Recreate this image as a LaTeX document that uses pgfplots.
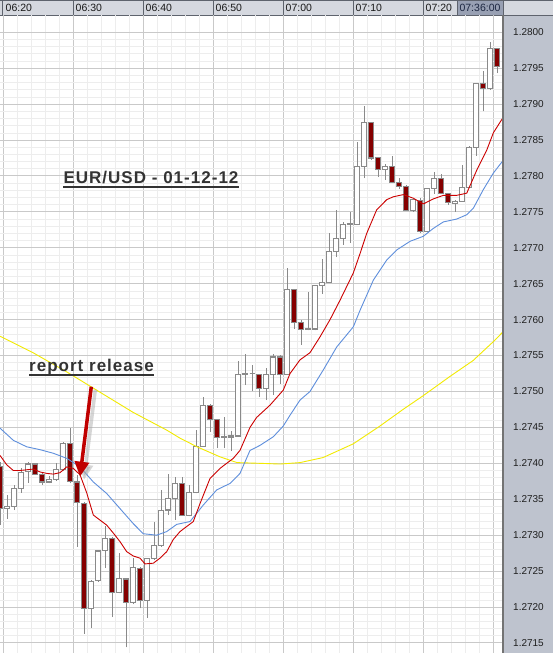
\documentclass[border=0pt]{standalone}
\usepackage{fontspec}
\setmainfont{Liberation Sans}
\usepackage{pgfplots}
\pgfplotsset{compat=1.18}
\usepackage{pgfplotstable}
\usetikzlibrary{arrows.meta}

\definecolor{hdrbg}{HTML}{D5D8DF}
\definecolor{hdrline}{HTML}{5E636D}
\definecolor{nowbg}{HTML}{98A0B3}
\definecolor{nowtxt}{HTML}{1C2640}
\definecolor{panelbg}{HTML}{BEC3CE}
\definecolor{gridmaj}{HTML}{C9C9C9}
\definecolor{gridmin}{HTML}{EDEDED}
\definecolor{candleline}{HTML}{8A8A8A}
\definecolor{candledown}{HTML}{850000}
\definecolor{mared}{HTML}{CC0000}
\definecolor{mablue}{HTML}{5F8FDC}
\definecolor{mayellow}{HTML}{F2EA00}
\definecolor{notetxt}{HTML}{333333}
\definecolor{arrowred}{HTML}{C00000}

% one-minute candles, EUR/USD
\pgfplotstableread{
i o h l c
0 1.27395 1.27402 1.27314 1.27337
1 1.27337 1.27356 1.27323 1.27340
2 1.27340 1.27370 1.27335 1.27365
3 1.27365 1.27393 1.27359 1.27387
4 1.27388 1.27402 1.27373 1.27399
5 1.27399 1.27400 1.27384 1.27385
6 1.27385 1.27388 1.27370 1.27374
7 1.27374 1.27382 1.27372 1.27377
8 1.27377 1.27401 1.27376 1.27392
9 1.27392 1.27430 1.27390 1.27427
10 1.27427 1.27449 1.27372 1.27375
11 1.27374 1.27384 1.27284 1.27345
12 1.27344 1.27346 1.27163 1.27198
13 1.27198 1.27237 1.27171 1.27236
14 1.27237 1.27279 1.27235 1.27278
15 1.27279 1.27313 1.27254 1.27295
16 1.27295 1.27298 1.27186 1.27220
17 1.27220 1.27275 1.27219 1.27240
18 1.27239 1.27240 1.27144 1.27206
19 1.27206 1.27268 1.27204 1.27255
20 1.27254 1.27256 1.27198 1.27209
21 1.27209 1.27268 1.27185 1.27268
22 1.27268 1.27319 1.27266 1.27285
23 1.27285 1.27363 1.27284 1.27334
24 1.27335 1.27385 1.27328 1.27351
25 1.27351 1.27381 1.27321 1.27372
26 1.27372 1.27381 1.27328 1.27328
27 1.27328 1.27370 1.27326 1.27359
28 1.27359 1.27447 1.27358 1.27424
29 1.27424 1.27492 1.27423 1.27481
30 1.27481 1.27483 1.27444 1.27461
31 1.27461 1.27461 1.27421 1.27436
32 1.27436 1.27464 1.27421 1.27437
33 1.27436 1.27445 1.27417 1.27438
34 1.27438 1.27542 1.27437 1.27524
35 1.27524 1.27552 1.27509 1.27525
36 1.27525 1.27537 1.27500 1.27525
37 1.27524 1.27525 1.27493 1.27504
38 1.27504 1.27532 1.27488 1.27524
39 1.27524 1.27552 1.27495 1.27548
40 1.27548 1.27551 1.27511 1.27524
41 1.27524 1.27672 1.27524 1.27642
42 1.27642 1.27642 1.27587 1.27596
43 1.27596 1.27600 1.27565 1.27586
44 1.27586 1.27638 1.27585 1.27588
45 1.27587 1.27648 1.27585 1.27648
46 1.27648 1.27684 1.27636 1.27652
47 1.27652 1.27720 1.27651 1.27695
48 1.27695 1.27753 1.27687 1.27713
49 1.27713 1.27736 1.27704 1.27733
50 1.27733 1.27750 1.27707 1.27734
51 1.27733 1.27847 1.27732 1.27813
52 1.27813 1.27897 1.27797 1.27874
53 1.27874 1.27874 1.27822 1.27825
54 1.27826 1.27827 1.27799 1.27809
55 1.27809 1.27817 1.27795 1.27813
56 1.27813 1.27828 1.27791 1.27791
57 1.27791 1.27797 1.27782 1.27785
58 1.27785 1.27788 1.27752 1.27752
59 1.27752 1.27767 1.27750 1.27767
60 1.27766 1.27769 1.27720 1.27723
61 1.27723 1.27783 1.27723 1.27783
62 1.27783 1.27806 1.27775 1.27796
63 1.27796 1.27802 1.27776 1.27776
64 1.27776 1.27776 1.27760 1.27763
65 1.27762 1.27767 1.27750 1.27765
66 1.27764 1.27815 1.27764 1.27784
67 1.27784 1.27842 1.27783 1.27840
68 1.27840 1.27929 1.27828 1.27929
69 1.27929 1.27946 1.27890 1.27922
70 1.27922 1.27987 1.27920 1.27977
71 1.27977 1.27977 1.27943 1.27952
}\candles

% fast moving average (red)
\pgfplotstableread{
x y
-0.04 1.27411
0.91 1.27398
1.86 1.27390
2.81 1.27390
3.77 1.27391
4.71 1.27392
5.67 1.27388
6.63 1.27386
7.57 1.27385
8.53 1.27387
9.49 1.27395
10.43 1.27393
11.39 1.27384
12.34 1.27359
13.29 1.27328
14.24 1.27321
15.20 1.27314
16.14 1.27303
17.10 1.27291
18.06 1.27277
19.00 1.27271
19.96 1.27268
20.67 1.27260
21.86 1.27261
22.81 1.27268
23.77 1.27277
24.71 1.27294
25.67 1.27305
27.57 1.27319
28.53 1.27344
29.96 1.27379
31.39 1.27393
33.29 1.27407
34.24 1.27418
35.67 1.27450
36.63 1.27464
38.53 1.27481
40.43 1.27502
41.39 1.27525
42.81 1.27544
44.24 1.27554
45.67 1.27576
47.10 1.27600
48.53 1.27627
50.43 1.27665
51.39 1.27692
52.34 1.27720
53.77 1.27753
55.20 1.27767
56.14 1.27771
57.57 1.27774
59.00 1.27769
60.43 1.27761
61.86 1.27768
63.29 1.27773
65.20 1.27773
66.63 1.27776
68.06 1.27808
69.49 1.27836
70.43 1.27860
71.86 1.27882
}\mafast

% slower moving average (blue)
\pgfplotstableread{
x y
-0.04 1.27449
1.86 1.27432
3.77 1.27423
5.67 1.27419
7.57 1.27414
9.49 1.27407
11.39 1.27395
13.29 1.27374
15.20 1.27358
17.10 1.27337
19.00 1.27316
20.43 1.27302
22.34 1.27300
23.77 1.27305
25.20 1.27315
27.10 1.27319
29.00 1.27342
30.91 1.27363
32.81 1.27372
34.24 1.27386
35.67 1.27418
37.10 1.27425
39.00 1.27437
40.43 1.27452
41.39 1.27467
42.81 1.27488
44.24 1.27500
46.14 1.27530
48.06 1.27562
50.43 1.27590
51.39 1.27613
53.29 1.27655
55.20 1.27683
56.63 1.27697
58.53 1.27709
60.43 1.27716
61.86 1.27727
63.29 1.27736
65.20 1.27740
66.63 1.27746
67.57 1.27755
69.00 1.27781
70.43 1.27804
71.86 1.27822
}\mamid

% long moving average (yellow)
\pgfplotstableread{
x y
-0.04 1.27577
4.67 1.27554
9.53 1.27527
14.24 1.27499
18.96 1.27471
23.81 1.27446
25.67 1.27435
28.10 1.27423
31.39 1.27409
33.81 1.27401
37.10 1.27400
39.96 1.27399
42.81 1.27401
46.10 1.27408
50.39 1.27427
54.24 1.27452
57.53 1.27475
60.39 1.27494
64.24 1.27521
67.53 1.27543
70.39 1.27569
71.81 1.27583
}\maslow

\pgfplotsset{
  candle/.style={draw=candleline, line width=1.1pt, line join=miter},
  wick/.style={draw=candleline, line width=1.1pt},
}

\begin{document}
\begin{tikzpicture}[x=1pt,y=1pt]
\useasboundingbox (0,0) rectangle (553,653);
\fill[white] (0,0) rectangle (503,638);
\fill[panelbg] (503,0) rectangle (553,638);
% time header
\fill[hdrbg] (0,638) rectangle (553,653);
\fill[nowbg] (457,638) rectangle (503,653);
\draw[hdrline, line width=0.8pt] (0,638) -- (553,638);
\draw[hdrline, line width=1pt] (0,652.5) -- (553,652.5);
\foreach \sx in {2.5,73,143,213,283,353,423,457,503}
  \draw[hdrline, line width=0.8pt] (\sx,638) -- (\sx,653);
\node[text=nowtxt, font=\fontsize{10.5}{12}\selectfont] at (480,645) {07:36:00};

\begin{axis}[
  at={(0,0)}, anchor=south west, scale only axis,
  width=503pt, height=638pt,
  xmin=-0.043, xmax=71.81,
  ymin=1.27136, ymax=1.28024,
  axis line style={draw=none},
  tick style={draw=none},
  xtick={0.386,10.386,20.386,30.386,40.386,50.386,60.386,70.386},
  xticklabels={06:20,06:30,06:40,06:50,07:00,07:10,07:20,},
  xticklabel pos=upper,
  xticklabel style={anchor=west, inner sep=0pt, xshift=2.5pt, yshift=7pt,
    font=\fontsize{10.5}{12}\selectfont, text=black!90},
  minor x tick num=4,
  ytick={1.2715,1.2720,1.2725,1.2730,1.2735,1.2740,1.2745,1.2750,1.2755,1.2760,1.2765,1.2770,1.2775,1.2780,1.2785,1.2790,1.2795,1.2800},
  minor y tick num=4,
  yticklabel pos=right,
  yticklabel style={anchor=west, inner sep=0pt, xshift=10pt,
    font=\fontsize{10}{12}\selectfont, text=black!88,
    /pgf/number format/.cd, fixed, fixed zerofill, precision=4, assume math mode=true},
  grid=both,
  major grid style={gridmaj, line width=0.9pt},
  minor grid style={gridmin, line width=0.6pt},
]
\pgfplotsinvokeforeach{0,...,71}{
  \pgfplotstablegetelem{#1}{o}\of\candles \let\co\pgfplotsretval
  \pgfplotstablegetelem{#1}{h}\of\candles \let\ch\pgfplotsretval
  \pgfplotstablegetelem{#1}{l}\of\candles \let\cl\pgfplotsretval
  \pgfplotstablegetelem{#1}{c}\of\candles \let\cc\pgfplotsretval
  \ifdim\cc pt<\co pt
    \def\cfill{candledown}\let\cbot\cc \let\ctop\co
  \else
    \def\cfill{white}\let\cbot\co \let\ctop\cc
  \fi
  \pgfmathsetmacro\xl{#1-0.35}
  \pgfmathsetmacro\xr{#1+0.35}
  \edef\next{\noexpand\addplot[wick] coordinates {(#1,\cl) (#1,\ch)};
    \noexpand\addplot[candle, fill=\cfill] coordinates
      {(\xl,\cbot) (\xr,\cbot) (\xr,\ctop) (\xl,\ctop)} --cycle;}
  \next
}
\addplot[mayellow, line width=0.9pt] table[x=x, y=y] {\maslow};
\addplot[mablue, line width=0.9pt] table[x=x, y=y] {\mamid};
\addplot[mared, line width=0.9pt] table[x=x, y=y] {\mafast};
\end{axis}

\draw[black!55, line width=1.3pt] (503,0) -- (503,638);

% annotations
\draw[black!35, opacity=0.45, line width=3.5pt, -{Triangle[length=15pt,width=14pt]}]
  (95.3,263.3) -- (84,173.3);
\draw[arrowred, line width=3.5pt, -{Triangle[length=15pt,width=14pt]}]
  (91.3,266.3) -- (80,176.3);

\node[anchor=base west, inner sep=0pt, text=notetxt,
  font=\fontsize{17}{20}\selectfont\bfseries\addfontfeatures{LetterSpace=6}]
  (t1) at (63.3,469) {EUR/USD - 01-12-12};
\draw[notetxt, line width=2pt] ([yshift=-3pt]t1.base west) -- ([yshift=-3pt]t1.base east);

\node[anchor=base west, inner sep=0pt, text=notetxt,
  font=\fontsize{17}{20}\selectfont\bfseries\addfontfeatures{LetterSpace=6}]
  (t2) at (29,281.3) {report release};
\draw[notetxt, line width=2pt] ([yshift=-3pt]t2.base west) -- ([yshift=-3pt]t2.base east);
\end{tikzpicture}
\end{document}
